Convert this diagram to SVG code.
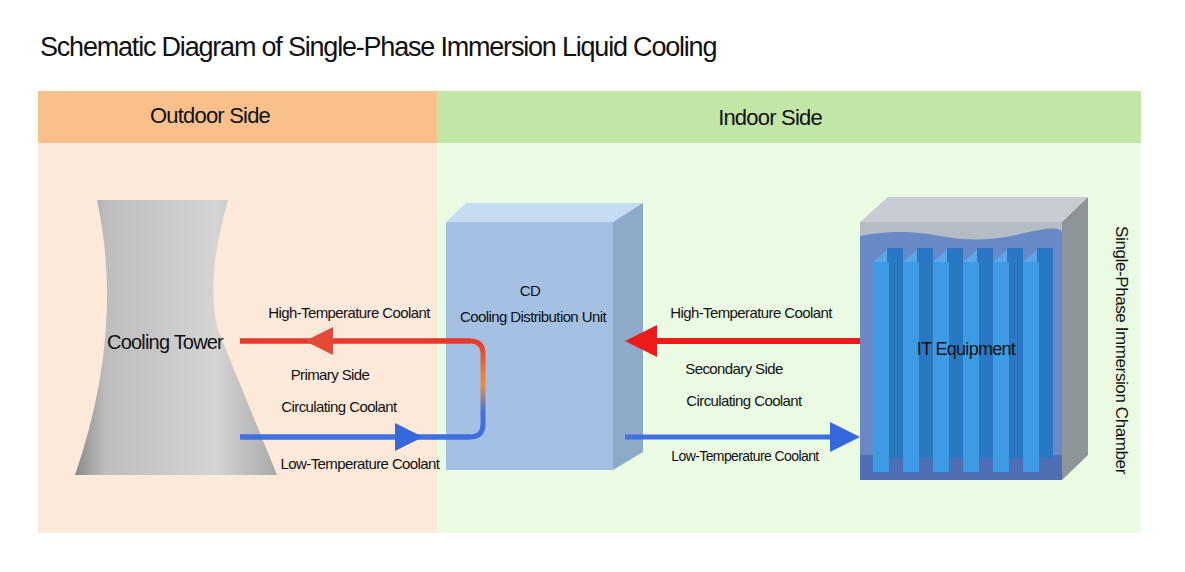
<svg xmlns="http://www.w3.org/2000/svg" width="1185" height="572" viewBox="0 0 1185 572">
<style>
text{font-family:"Liberation Sans Narrow","Liberation Sans",Arial,sans-serif;fill:#111}
.lbl{font-size:15px;letter-spacing:-0.6px}
.hd{font-size:22px;letter-spacing:-0.8px}
</style>
<defs>
<linearGradient id="tw" x1="0" x2="1"><stop offset="0" stop-color="#8a8a8a"/><stop offset="0.15" stop-color="#bdbdbd"/><stop offset="0.7" stop-color="#d4d4d4"/><stop offset="1" stop-color="#a9a9a9"/></linearGradient>
<linearGradient id="pipe" x1="0" y1="0" x2="0" y2="1"><stop offset="0" stop-color="#e8382c"/><stop offset="0.45" stop-color="#f0913a"/><stop offset="0.75" stop-color="#3f6fe0"/><stop offset="1" stop-color="#3f6fe0"/></linearGradient>
</defs>
<rect width="1185" height="572" fill="#fff"/>
<text x="40" y="56" style="font-size:27px;letter-spacing:-1.2px">Schematic Diagram of Single-Phase Immersion Liquid Cooling</text>
<rect x="38" y="91" width="399" height="52" fill="#f9c08c"/>
<rect x="437" y="91" width="704" height="52" fill="#c2e6a6"/>
<rect x="38" y="143" width="399" height="390" fill="#fce9da"/>
<rect x="437" y="143" width="704" height="390" fill="#ebfbe3"/>
<text class="hd" x="210" y="123" text-anchor="middle">Outdoor Side</text>
<text class="hd" x="770" y="125" text-anchor="middle">Indoor Side</text>

<g id="cooling-tower">
<path d="M97,200 L228,200 Q205,280 218,330 L277,475 L75,475 Q125,330 97,200 Z" fill="url(#tw)"/>
<text x="165" y="349" text-anchor="middle" style="font-size:20px;letter-spacing:-0.8px">Cooling Tower</text>
</g>

<g id="cdu">
<polygon points="446,222 466,203 643,203 613,222" fill="#c5dcf3"/>
<polygon points="613,222 643,203 643,452 613,470" fill="#8fa9c8"/>
<rect x="446" y="222" width="167" height="248" fill="#a4c0e3"/>
<text class="lbl" x="530" y="296" text-anchor="middle">CD</text>
<text class="lbl" x="533" y="322" text-anchor="middle">Cooling Distribution Unit</text>
</g>

<g id="chamber">
<polygon points="860,222 888,197 1088,197 1062,222" fill="#c8cdd4"/>
<polygon points="1062,222 1088,197 1088,455 1062,480" fill="#8e9598"/>
<rect x="860" y="222" width="202" height="258" fill="#b6bcc6"/>
<path d="M860,236 Q900,228 940,236 T1020,234 T1062,232 L1062,480 L860,480 Z" fill="#5c7fc6" opacity="0.85"/>
<rect x="860" y="455" width="202" height="25" fill="#4e6fb5"/>
<g>
<polygon points="873,262 889,248 903,248 887,262" fill="#5aa6ea"/><rect x="887" y="248" width="16" height="210" fill="#2a78c4"/><rect x="873" y="262" width="16" height="210" fill="#3d9be6"/>
<polygon points="903,262 919,248 933,248 917,262" fill="#5aa6ea"/><rect x="917" y="248" width="16" height="210" fill="#2a78c4"/><rect x="903" y="262" width="16" height="210" fill="#3d9be6"/>
<polygon points="933,262 949,248 963,248 947,262" fill="#5aa6ea"/><rect x="947" y="248" width="16" height="210" fill="#2a78c4"/><rect x="933" y="262" width="16" height="210" fill="#3d9be6"/>
<polygon points="963,262 979,248 993,248 977,262" fill="#5aa6ea"/><rect x="977" y="248" width="16" height="210" fill="#2a78c4"/><rect x="963" y="262" width="16" height="210" fill="#3d9be6"/>
<polygon points="993,262 1009,248 1023,248 1007,262" fill="#5aa6ea"/><rect x="1007" y="248" width="16" height="210" fill="#2a78c4"/><rect x="993" y="262" width="16" height="210" fill="#3d9be6"/>
<polygon points="1023,262 1039,248 1053,248 1037,262" fill="#5aa6ea"/><rect x="1037" y="248" width="16" height="210" fill="#2a78c4"/><rect x="1023" y="262" width="16" height="210" fill="#3d9be6"/>
</g>
<text x="966" y="355" text-anchor="middle" style="font-size:18px;letter-spacing:-0.7px">IT Equipment</text>
<text transform="translate(1116,350) rotate(90)" text-anchor="middle" style="font-size:17px;letter-spacing:-0.4px">Single-Phase Immersion Chamber</text>
</g>

<g id="connectors">
<path d="M240,341 L470,341 Q483,341 483,354 L483,424 Q483,437 470,437 L240,437" fill="none" stroke="url(#pipe)" stroke-width="5"/>
<line x1="240" y1="341" x2="470" y2="341" stroke="#e8382c" stroke-width="5"/>
<line x1="240" y1="437" x2="470" y2="437" stroke="#3f6fe0" stroke-width="5"/>
<polygon points="305,341 333,327 333,355" fill="#e34a3a"/>
<polygon points="423,437 395,423 395,451" fill="#3568dc"/>
<line x1="650" y1="341" x2="860" y2="341" stroke="#ee1b1b" stroke-width="6"/>
<polygon points="625,341 657,325 657,357" fill="#ee1b1b"/>
<line x1="625" y1="437" x2="835" y2="437" stroke="#3f6fe0" stroke-width="5"/>
<polygon points="860,437 830,422 830,452" fill="#3568dc"/>
</g>
<text class="lbl" x="349" y="318" text-anchor="middle">High-Temperature Coolant</text>
<text class="lbl" x="330" y="380" text-anchor="middle">Primary Side</text>
<text class="lbl" x="339" y="412" text-anchor="middle">Circulating Coolant</text>
<text class="lbl" x="360" y="469" text-anchor="middle">Low-Temperature Coolant</text>
<text class="lbl" x="751" y="318" text-anchor="middle">High-Temperature Coolant</text>
<text class="lbl" x="734" y="374" text-anchor="middle">Secondary Side</text>
<text class="lbl" x="744" y="406" text-anchor="middle">Circulating Coolant</text>
<text class="lbl" x="745" y="461" text-anchor="middle" style="font-size:14px">Low-Temperature Coolant</text>
</svg>
